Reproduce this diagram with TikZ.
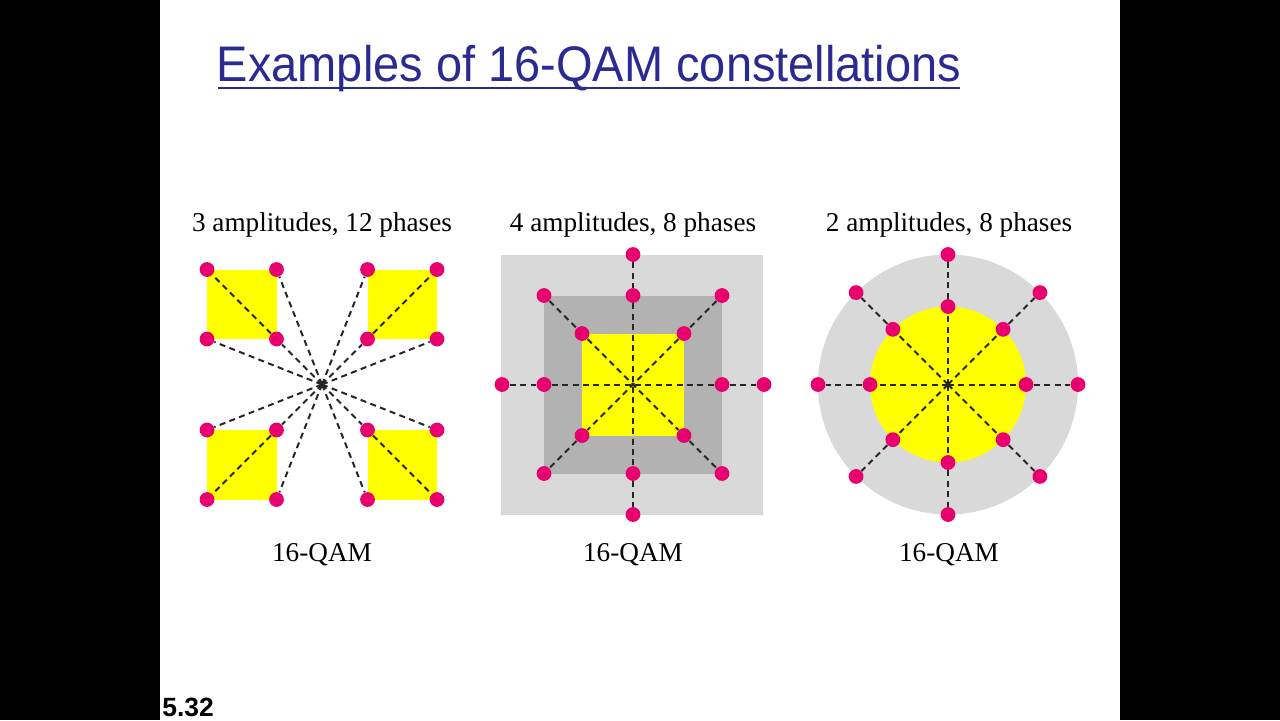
\documentclass[tikz,border=0pt]{standalone}
\usepackage{fontspec}
\setmainfont{Liberation Serif}
\newfontfamily\titlefont{Liberation Sans}
\usetikzlibrary{positioning}

\definecolor{titleblue}{RGB}{42,42,145}
\definecolor{dotpink}{RGB}{232,0,110}
\definecolor{lightgrey}{RGB}{217,217,217}
\definecolor{midgrey}{RGB}{178,178,178}
\definecolor{qamyellow}{RGB}{255,255,0}

\begin{document}
\begin{tikzpicture}[x=0.5pt, y=-0.5pt,
  pt/.style={circle, fill=dotpink, inner sep=0pt, minimum size=7.4pt},
  ray/.style={draw=black!85, dash pattern=on 3pt off 2.2pt, line width=1pt},
  caption/.style={font=\fontsize{13.6}{16}\selectfont, anchor=base}]

  \useasboundingbox (0,0) rectangle (1280,720);
  \fill[black] (0,0) rectangle (1280,720);
  \fill[white] (160,0) rectangle (1120,720);

  % slide title
  \node (title) [anchor=base, text=titleblue, inner sep=0pt] at (589,81)
    {\titlefont\fontsize{25}{30}\selectfont\scalebox{0.94}[1]{Examples of 16-QAM constellations}};
  \draw[titleblue, line width=1.2pt] (218,88) -- (960,88);

  % 3 amplitudes, 12 phases
  \node (lab1) [caption] at (322,231) {3 amplitudes, 12 phases};
  \coordinate (p1-c) at (322,384.5);
  \foreach \q/\sx/\sy in {nw/-1/-1, ne/1/-1, sw/-1/1, se/1/1} {
    \fill[qamyellow] ({322+\sx*45.5},{384.5+\sy*45.5}) rectangle ({322+\sx*115},{384.5+\sy*115});
    \node[pt] (p1-\q-in) at ({322+\sx*45.5},{384.5+\sy*45.5}) {};
    \node[pt] (p1-\q-out) at ({322+\sx*115},{384.5+\sy*115}) {};
    \node[pt] (p1-\q-h) at ({322+\sx*115},{384.5+\sy*45.5}) {};
    \node[pt] (p1-\q-v) at ({322+\sx*45.5},{384.5+\sy*115}) {};
    \draw[ray] (p1-c) -- (p1-\q-in) -- (p1-\q-out);
    \draw[ray] (p1-c) -- (p1-\q-h);
    \draw[ray] (p1-c) -- (p1-\q-v);
  }
  \node (qam1) [caption] at (322,561) {16-QAM};

  % 4 amplitudes, 8 phases
  \node (lab2) [caption] at (633,231) {4 amplitudes, 8 phases};
  \coordinate (p2-c) at (633,384.5);
  \fill[lightgrey] (501,254.5) rectangle (763,514.5);
  \fill[midgrey] (544,295.5) rectangle (722,473.5);
  \fill[qamyellow] (582,333.5) rectangle (684,435.5);
  \foreach \q/\dx/\dy in {n/0/-1, s/0/1, w/-1/0, e/1/0} {
    \node[pt] (p2-o-\q) at ({633+\dx*131},{384.5+\dy*130}) {};
    \node[pt] (p2-m-\q) at ({633+\dx*89},{384.5+\dy*89}) {};
  }
  \foreach \q/\dx/\dy in {nw/-1/-1, ne/1/-1, sw/-1/1, se/1/1} {
    \node[pt] (p2-m-\q) at ({633+\dx*89},{384.5+\dy*89}) {};
    \node[pt] (p2-i-\q) at ({633+\dx*51},{384.5+\dy*51}) {};
  }
  \draw[ray] (p2-o-w) -- (p2-m-w) -- (p2-c) -- (p2-m-e) -- (p2-o-e);
  \draw[ray] (p2-o-n) -- (p2-m-n) -- (p2-c) -- (p2-m-s) -- (p2-o-s);
  \draw[ray] (p2-m-nw) -- (p2-i-nw) -- (p2-c) -- (p2-i-se) -- (p2-m-se);
  \draw[ray] (p2-m-ne) -- (p2-i-ne) -- (p2-c) -- (p2-i-sw) -- (p2-m-sw);
  \node (qam2) [caption] at (633,561) {16-QAM};

  % 2 amplitudes, 8 phases
  \node (lab3) [caption] at (949,231) {2 amplitudes, 8 phases};
  \coordinate (p3-c) at (948,384.5);
  \fill[lightgrey] (p3-c) circle[radius=130];
  \fill[qamyellow] (p3-c) circle[radius=78];
  \foreach \a in {0,45,...,315} {
    \node[pt] (p3-o-\a) at ({948+130*cos(\a)},{384.5-130*sin(\a)}) {};
    \node[pt] (p3-i-\a) at ({948+78*cos(\a)},{384.5-78*sin(\a)}) {};
    \draw[ray] (p3-c) -- (p3-i-\a) -- (p3-o-\a);
  }
  \node (qam3) [caption] at (949,561) {16-QAM};

  % slide number
  \node (num) [anchor=base west, inner sep=0pt] at (162,716)
    {\titlefont\bfseries\fontsize{13.2}{15}\selectfont 5.32};
\end{tikzpicture}
\end{document}
